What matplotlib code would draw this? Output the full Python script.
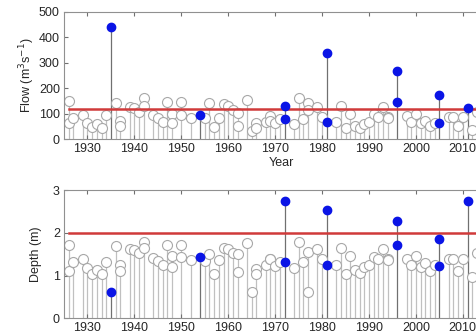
import numpy as np
import matplotlib
matplotlib.use("Agg")
import matplotlib.pyplot as plt

plt.rcParams['font.family'] = ['Liberation Sans', 'DejaVu Sans']

# flow, grey (hollow) points: year, value
flow_years = [1926, 1926, 1927, 1929, 1930, 1931, 1932, 1933, 1934, 1936, 1937, 1937,
              1939, 1940, 1941, 1942, 1942, 1944, 1945, 1946, 1947, 1948, 1948, 1950, 1950,
              1952, 1955, 1956, 1957, 1958, 1959, 1960, 1961, 1962, 1962, 1964, 1965, 1966, 1966,
              1968, 1969, 1969, 1970, 1971, 1974, 1975, 1976, 1977, 1977, 1979, 1980, 1983,
              1984, 1985, 1986, 1987, 1988, 1989, 1990, 1991, 1992, 1993, 1994, 1994, 1998,
              1999, 2000, 2001, 2002, 2003, 2004, 2007, 2008, 2009, 2010, 2012, 2013]
flow_vals = [151, 62, 81, 94, 62, 49, 58, 45, 94, 143, 71, 50,
             125, 124, 107, 160, 130, 94, 81, 68, 146, 99, 63, 146, 94,
             84, 81, 143, 46, 84, 136, 129, 114, 102, 51, 152, 31, 62, 45,
             67, 91, 72, 62, 79, 59, 160, 79, 141, 114, 127, 88, 68,
             130, 42, 97, 52, 45, 58, 68, 97, 88, 127, 88, 82, 91,
             68, 97, 64, 72, 52, 64, 85, 85, 51, 85, 34, 107]
# flow, blue (filled) points
flow_hi_years = [1935, 1954, 1972, 1972, 1981, 1981, 1996, 1996, 2005, 2005, 2011]
flow_hi_vals = [440, 96, 130, 79, 337, 67, 268, 146, 173, 64, 121]

# depth, grey points
depth_years = flow_years
depth_vals = [1.72, 1.11, 1.33, 1.40, 1.19, 1.05, 1.13, 1.03, 1.33, 1.70, 1.26, 1.11,
              1.62, 1.60, 1.52, 1.79, 1.64, 1.42, 1.34, 1.26, 1.72, 1.47, 1.21, 1.72, 1.43,
              1.37, 1.34, 1.50, 1.03, 1.37, 1.65, 1.63, 1.54, 1.50, 1.09, 1.76, 0.62, 1.15, 1.03,
              1.25, 1.40, 1.40, 1.22, 1.31, 1.19, 1.79, 1.31, 1.55, 0.62, 1.62, 1.38, 1.26,
              1.64, 1.05, 1.46, 1.13, 1.07, 1.21, 1.25, 1.44, 1.38, 1.62, 1.40, 1.36, 1.40,
              1.26, 1.47, 1.21, 1.29, 1.11, 1.25, 1.38, 1.38, 1.11, 1.38, 0.97, 1.52]
depth_hi_years = flow_hi_years
depth_hi_vals = [0.62, 1.44, 2.75, 1.33, 2.55, 1.25, 2.28, 1.72, 1.87, 1.22, 2.75]

flow_thr = 120
depth_thr = 2
xlim = (1925, 2017.5)
flow_ticks = [0, 100, 200, 300, 400, 500]
depth_ticks = [0, 1, 2, 3]
year_ticks = [1930, 1940, 1950, 1960, 1970, 1980, 1990, 2000, 2010]


def panel(ax, yrs, vals, hyrs, hvals, thr, ylim, yticks, ylabel, lpad):
    # stems: one per year, up to the highest value
    top = {}
    for y, v in zip(yrs, vals):
        top[y] = max(top.get(y, 0), v)
    hi_top = {}
    for y, v in zip(hyrs, hvals):
        hi_top[y] = max(hi_top.get(y, 0), v)
    for y, v in top.items():
        if y not in hi_top:
            ax.plot([y, y], [0, v], color='#c0c0c0', lw=0.9, zorder=1)
    for y, v in hi_top.items():
        ax.plot([y, y], [0, v], color='#707070', lw=0.9, zorder=1)
    ax.plot(yrs, vals, 'o', mfc='white', mec='#a8a8a8', mew=0.8, ms=7.2, zorder=2)
    ax.plot([1926, xlim[1]], [thr, thr], color='#d03a3a', lw=1.8, zorder=3)
    ax.plot(hyrs, hvals, 'o', color='#0a14e6', ms=6, zorder=4)
    ax.set_xlim(*xlim)
    ax.set_ylim(*ylim)
    ax.set_yticks(yticks)
    ax.set_xticks(year_ticks)
    ax.set_ylabel(ylabel, fontsize=9, color='#262626', labelpad=lpad)
    ax.tick_params(direction='in', top=True, right=True, length=3, width=0.8,
                   color='#707070', labelsize=9, labelcolor='#262626', pad=3)
    for s in ax.spines.values():
        s.set_color('#909090')
        s.set_linewidth(0.8)


fig = plt.figure(figsize=(4.76, 3.33), dpi=100)
W, H = 476, 333
left, right = 64, 498
ax1 = fig.add_axes([left / W, 1 - 139 / H, (right - left) / W, 127 / H])
ax2 = fig.add_axes([left / W, 1 - 318.3 / H, (right - left) / W, 128 / H])

panel(ax1, flow_years, flow_vals, flow_hi_years, flow_hi_vals, flow_thr, (0, 500),
      flow_ticks, 'Flow (m$^3$s$^{-1}$)', 1)
ax1.set_xlabel('Year', fontsize=9, color='#262626', labelpad=1)
panel(ax2, depth_years, depth_vals, depth_hi_years, depth_hi_vals, depth_thr, (0, 3),
      depth_ticks, 'Depth (m)', 8)

fig.savefig('out.png', dpi=100)
